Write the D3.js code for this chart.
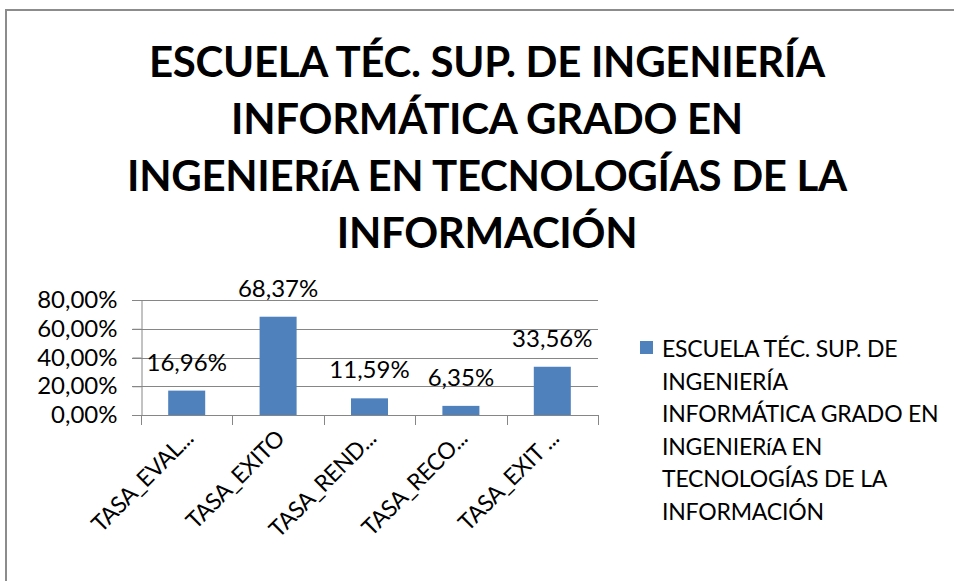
<!DOCTYPE html>
<html>
<head>
<meta charset="utf-8">
<script src="https://cdn.jsdelivr.net/npm/d3@7"></script>
<style>
  html, body { margin: 0; padding: 0; background: #fff; }
  svg { display: block; }
  text { font-family: Lato, "Open Sans", sans-serif; fill: #000; }
</style>
</head>
<body>
<svg id="chart"></svg>
<script>
// data
const categories = ["TASA_EVAL...", "TASA_EXITO", "TASA_REND...", "TASA_RECO...", "TASA_EXIT ..."];
const values = [0.1696, 0.6837, 0.1159, 0.0635, 0.3356];
const yTicks = [0, 0.2, 0.4, 0.6, 0.8];
const titleLines = ["ESCUELA TÉC. SUP. DE INGENIERÍA", "INFORMÁTICA GRADO EN", "INGENIERíA EN TECNOLOGÍAS DE LA", "INFORMACIÓN"];
const legendLines = ["ESCUELA TÉC. SUP. DE", "INGENIERÍA", "INFORMÁTICA GRADO EN", "INGENIERíA EN", "TECNOLOGÍAS DE LA", "INFORMACIÓN"];

const width = 954, height = 581;
const barColor = "#4f81bd";
const gridColor = "#868686";
const plot = { left: 141, right: 598, top: 300, bottom: 415 };

const esLocale = d3.formatLocale({ decimal: ",", thousands: ".", grouping: [3], currency: ["", "€"] });
const pct = esLocale.format(".2%");

var svg = d3.select("#chart").attr("width", width).attr("height", height);

// outer frame (runs off the right and bottom edges)
svg.append("path")
  .attr("d", `M6,${height + 5}V10H${width + 5}`)
  .attr("fill", "none")
  .attr("stroke", "#8c8c8c")
  .attr("stroke-width", 2);

// title
var title = svg.append("g");
title.selectAll("text")
  .data(titleLines)
  .enter().append("text")
  .attr("x", 487)
  .attr("y", (d, i) => 77 + i * 57)
  .attr("text-anchor", "middle")
  .style("font-weight", 700)
  .style("font-size", "42px")
  .style("letter-spacing", "-0.3px")
  .text(d => d);

var x = d3.scaleBand()
  .domain(categories)
  .range([plot.left, plot.right])
  .paddingInner(0.595)
  .paddingOuter(0.2975);

var y = d3.scaleLinear()
  .domain([0, 0.8])
  .range([plot.bottom, plot.top]);

// gridlines
svg.append("g")
  .selectAll("line")
  .data(yTicks)
  .enter().append("line")
  .attr("x1", plot.left - 9)
  .attr("x2", plot.right)
  .attr("y1", d => Math.round(y(d)) + 0.5)
  .attr("y2", d => Math.round(y(d)) + 0.5)
  .attr("stroke", gridColor);

// y axis
var yAxis = svg.append("g")
  .attr("transform", `translate(${plot.left + 0.5},0)`)
  .call(d3.axisLeft(y).tickValues(yTicks).tickFormat(pct).tickSize(9).tickPadding(15));
yAxis.selectAll("path, line").attr("stroke", gridColor);
yAxis.selectAll("text")
  .style("font-family", "Lato, sans-serif")
  .style("font-size", "24px")
  .attr("fill", "#000");

// x axis line + ticks between categories
var step = x.step();
var boundaries = d3.range(categories.length + 1).map(i => x.range()[0] + i * step);
svg.append("g")
  .selectAll("line")
  .data(boundaries)
  .enter().append("line")
  .attr("x1", d => Math.round(d) + 0.5)
  .attr("x2", d => Math.round(d) + 0.5)
  .attr("y1", plot.bottom)
  .attr("y2", plot.bottom + 10)
  .attr("stroke", gridColor);
svg.append("line")
  .attr("x1", plot.left)
  .attr("x2", plot.right)
  .attr("y1", plot.bottom + 0.5)
  .attr("y2", plot.bottom + 0.5)
  .attr("stroke", gridColor);

// bars
svg.append("g")
  .selectAll("rect")
  .data(values)
  .enter().append("rect")
  .attr("x", (d, i) => x(categories[i]))
  .attr("width", x.bandwidth())
  .attr("y", d => y(d))
  .attr("height", d => y(0) - y(d))
  .attr("fill", barColor);

// data labels
svg.append("g")
  .selectAll("text")
  .data(values)
  .enter().append("text")
  .attr("x", (d, i) => x(categories[i]) + x.bandwidth() / 2)
  .attr("y", d => y(d) - 20)
  .attr("text-anchor", "middle")
  .style("font-size", "24px")
  .text(d => pct(d));

// rotated category labels
svg.append("g")
  .selectAll("text")
  .data(categories)
  .enter().append("text")
  .attr("transform", d => `translate(${x(d) + x.bandwidth() / 2 + 8},${plot.bottom + 25}) rotate(-45)`)
  .attr("text-anchor", "end")
  .style("font-size", "23px")
  .style("letter-spacing", "-0.4px")
  .text(d => d);

// legend
var legend = svg.append("g");
legend.append("rect")
  .attr("x", 640)
  .attr("y", 341)
  .attr("width", 13)
  .attr("height", 13)
  .attr("fill", barColor);
legend.selectAll("text")
  .data(legendLines)
  .enter().append("text")
  .attr("x", 662)
  .attr("y", (d, i) => 357 + i * 32.5)
  .style("font-size", "23px")
  .style("letter-spacing", "-0.2px")
  .text(d => d);
</script>
</body>
</html>
